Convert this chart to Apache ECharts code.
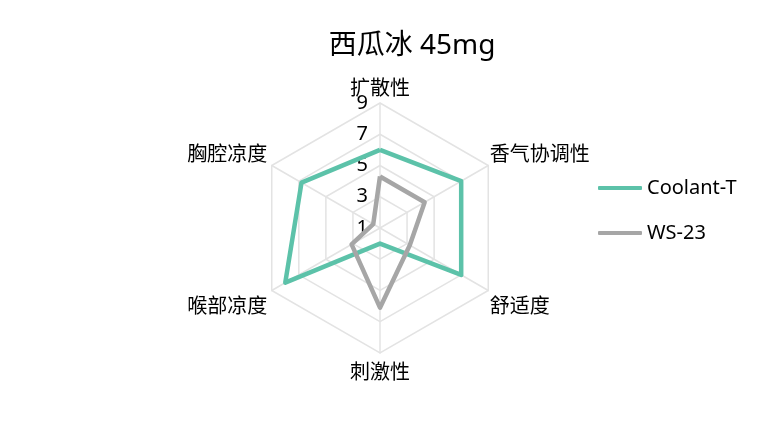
<!DOCTYPE html>
<html>
<head>
<meta charset="utf-8">
<title>西瓜冰 45mg</title>
<script src="https://cdn.jsdelivr.net/npm/echarts@6/dist/echarts.min.js"></script>
<style>
    html, body { margin: 0; padding: 0; background: #fff; }
    #radar { width: 760px; height: 432px; }
</style>
</head>
<body>
<div id="radar"></div>
<script>
//---数据定义区----------------------------------
var titleText = '西瓜冰 45mg';
// 顺时针顺序, 从顶部开始
var indicatorNames = ['扩散性', '香气协调性', '舒适度', '刺激性', '喉部凉度', '胸腔凉度'];
var seriesNames = ['Coolant-T', 'WS-23'];
var coolantT = [6, 7, 7, 2, 8, 6.8];
var ws23 = [4.3, 4.3, 3.2, 6.1, 3.1, 1.5];
var axisMin = 1;
var axisMax = 9;
//----------------------------------------------

//---样式常量----------------------------------
var FONT = "'Noto Sans', 'Noto Sans CJK SC', sans-serif";
var COLORS = ['#5cc2a9', '#a6a6a6'];
var LABEL_STYLE = { show: true, color: '#000', fontSize: 20, margin: 12, fontFamily: FONT };
// 轴名称微调 (顺时针, 与 indicatorNames 对应)
var NAME_PADDING = [
    [0, 0, 8, 0],
    [0, 0, 24, 5],
    [38, 0, 0, 5],
    [14, 0, 0, 0],
    [38, 8, 0, 0],
    [0, 8, 24, 0]
];
//----------------------------------------------

// echarts 雷达图是逆时针排列, 这里把顺序翻过来
function toCcw(arr) {
    return [arr[0]].concat(arr.slice(1).reverse());
}

function init() {
    var _chart = echarts.init(document.getElementById('radar'), null, { renderer: 'canvas' });

    var indicators = toCcw(indicatorNames).map(function (name, i) {
        return {
            name: name,
            min: axisMin,
            max: axisMax,
            nameMoveOverlap: false,
            axisLabel: i === 0 ? LABEL_STYLE : { show: false }
        };
    });

    var rich = {};
    NAME_PADDING.forEach(function (p, i) {
        rich['n' + i] = { color: '#000', fontSize: 20, fontFamily: FONT, padding: p };
    });

    var _options = {
        animation: false,
        color: COLORS,
        textStyle: { fontFamily: FONT },
        title: {
            text: titleText,
            left: 407,
            top: 27,
            textAlign: 'center',
            textStyle: { fontSize: 28, fontWeight: 'normal', color: '#000', fontFamily: FONT }
        },
        legend: {
            orient: 'vertical',
            left: 593,
            top: 173,
            itemWidth: 44,
            itemHeight: 4,
            itemGap: 25,
            icon: 'roundRect',
            data: seriesNames,
            textStyle: { fontSize: 20, color: '#000', fontFamily: FONT }
        },
        radar: {
            center: [380, 228],
            radius: 125,
            startAngle: 90,
            splitNumber: 4,
            shape: 'polygon',
            nameGap: -4,
            nameMoveOverlap: false,
            indicator: indicators,
            axisName: {
                color: '#000',
                fontSize: 20,
                fontFamily: FONT,
                formatter: function (name) {
                    return '{n' + indicatorNames.indexOf(name) + '|' + name + '}';
                },
                rich: rich
            },
            axisLine: { lineStyle: { color: '#e3e3e3', width: 1.5 } },
            splitLine: { lineStyle: { color: '#e3e3e3', width: 1.5 } },
            splitArea: { show: false }
        },
        series: [{
            type: 'radar',
            symbol: 'none',
            data: [
                { name: seriesNames[0], value: toCcw(coolantT), lineStyle: { width: 4.5, color: COLORS[0] } },
                { name: seriesNames[1], value: toCcw(ws23), lineStyle: { width: 4.5, color: COLORS[1] } }
            ]
        }]
    };
    _chart.setOption(_options);
}

init();
</script>
</body>
</html>
